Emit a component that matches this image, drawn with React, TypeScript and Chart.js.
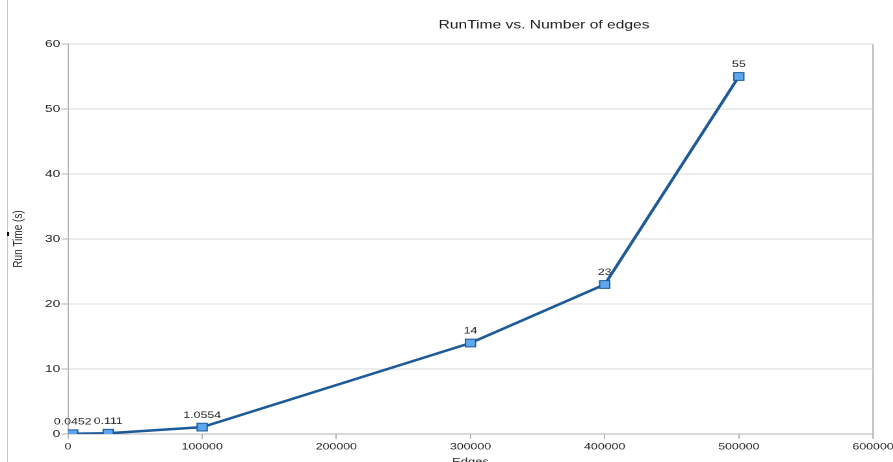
import React, { useEffect, useRef } from 'react';
import { Chart, registerables } from 'chart.js';

Chart.register(...registerables);

// ---- data ----
const edges = [3500, 30000, 100000, 300000, 400000, 500000];
const runTimes = [0.0452, 0.111, 1.0554, 14, 23, 55];
const pointLabels = ['0.0452', '0.111', '1.0554', '14', '23', '55'];
const xTickValues = [0, 100000, 200000, 300000, 400000, 500000, 600000];
const yTickValues = [0, 10, 20, 30, 40, 50, 60];
const chartTitle = 'RunTime vs. Number of edges';
const xTitle = 'Edges';
const yTitle = 'Run Time (s)';

// ---- layout constants ----
const FONT = "'Liberation Sans', Arial, sans-serif";
const K = 1.3; // horizontal stretch of the reference
const FULL_W = 893;
const FULL_H = 462;
const W = Math.round(FULL_W / K);
const H = 475;
const AREA_LEFT = 68;
const AREA_RIGHT = 873;
const AREA_TOP = 44;
const AREA_BOTTOM = 434;
const TEXT = '#262626';
const AXIS = '#b3b3b3';
const GRID = '#d9d9d9';

const pointLabelPlugin = {
  id: 'pointLabelPlugin',
  beforeDatasetsDraw(chart: any) {
    const ctx = chart.ctx;
    const meta = chart.getDatasetMeta(0);
    ctx.save();
    ctx.font = `9.5px ${FONT}`;
    ctx.fillStyle = TEXT;
    ctx.textAlign = 'center';
    ctx.textBaseline = 'middle';
    meta.data.forEach((pt: any, i: number) => {
      ctx.fillText(pointLabels[i], pt.x, pt.y - 12);
    });
    ctx.restore();
  },
};

const titlePlugin = {
  id: 'titlePlugin',
  afterDraw(chart: any) {
    const ctx = chart.ctx;
    ctx.save();
    ctx.font = `12px ${FONT}`;
    ctx.fillStyle = '#1e1e1e';
    ctx.textAlign = 'center';
    ctx.textBaseline = 'middle';
    ctx.fillText(chartTitle, 544 / K, 25);
    ctx.restore();
  },
};

export default function App() {
  const canvasRef = useRef<HTMLCanvasElement | null>(null);

  useEffect(() => {
    if (!canvasRef.current) return;
    const chart = new Chart(canvasRef.current, {
      type: 'line',
      data: {
        datasets: [
          {
            label: 'Run Time',
            data: edges.map((x, i) => ({ x, y: runTimes[i] })),
            borderColor: '#1d5a98',
            borderWidth: 2.5,
            pointStyle: 'rect',
            pointRadius: 5.5,
            pointHoverRadius: 5.5,
            pointBackgroundColor: '#5ea6ee',
            pointBorderColor: '#1d5a98',
            pointBorderWidth: 1,
            tension: 0,
            fill: false,
          },
        ],
      },
      options: {
        responsive: false,
        animation: false,
        devicePixelRatio: 2,
        layout: {
          padding: {
            top: AREA_TOP,
            right: W - AREA_RIGHT / K,
            bottom: 0,
            left: 0,
          },
        },
        plugins: {
          legend: { display: false },
          title: { display: false },
          tooltip: { enabled: false },
        },
        scales: {
          x: {
            type: 'linear',
            min: xTickValues[0],
            max: xTickValues[xTickValues.length - 1],
            afterBuildTicks: (scale: any) => {
              scale.ticks = xTickValues.map((v) => ({ value: v }));
            },
            afterFit: (scale: any) => {
              scale.height = H - AREA_BOTTOM;
              scale.paddingLeft = 0;
              scale.paddingRight = 0;
            },
            ticks: {
              color: TEXT,
              font: { family: FONT, size: 9.5 },
              padding: 2,
              maxRotation: 0,
              autoSkip: false,
              callback: (v: any) => String(v),
            },
            grid: {
              color: (ctx: any) =>
                ctx.tick && ctx.tick.value === xTickValues[xTickValues.length - 1]
                  ? AXIS
                  : 'rgba(0,0,0,0)',
              tickColor: AXIS,
              tickLength: 5,
              lineWidth: 1,
            },
            border: { display: true, color: AXIS, width: 1 },
            title: {
              display: true,
              text: xTitle,
              color: TEXT,
              font: { family: FONT, size: 10 },
              padding: { top: 0, bottom: 7 },
            },
          },
          y: {
            type: 'linear',
            min: yTickValues[0],
            max: yTickValues[yTickValues.length - 1],
            afterBuildTicks: (scale: any) => {
              scale.ticks = yTickValues.map((v) => ({ value: v }));
            },
            afterFit: (scale: any) => {
              scale.width = AREA_LEFT / K;
            },
            ticks: {
              color: TEXT,
              font: { family: FONT, size: 10.5 },
              padding: 1,
              callback: (v: any) => String(v),
            },
            grid: {
              color: GRID,
              tickColor: AXIS,
              tickLength: 5,
              lineWidth: 1,
            },
            border: { display: true, color: AXIS, width: 1 },
            title: {
              display: true,
              text: yTitle,
              color: TEXT,
              font: { family: FONT, size: 10 },
              padding: { top: 8, bottom: 0 },
            },
          },
        },
      },
      plugins: [pointLabelPlugin, titlePlugin],
    } as any);
    return () => chart.destroy();
  }, []);

  return (
    <div
      style={{
        position: 'fixed',
        left: 0,
        top: 0,
        width: FULL_W,
        height: FULL_H,
        overflow: 'hidden',
        background: '#ffffff',
      }}
    >
      <div
        style={{
          position: 'absolute',
          left: 7,
          top: 0,
          width: 1,
          height: FULL_H,
          background: '#c4c4c4',
        }}
      />
      <div
        style={{
          position: 'absolute',
          left: 7,
          top: 232,
          width: 2,
          height: 4,
          background: '#111111',
        }}
      />
      <div
        style={{
          position: 'absolute',
          left: 0,
          top: 0,
          width: W,
          height: H,
          transform: `scaleX(${K})`,
          transformOrigin: '0 0',
        }}
      >
        <canvas ref={canvasRef} width={W} height={H} style={{ width: W, height: H, display: 'block' }} />
      </div>
    </div>
  );
}
